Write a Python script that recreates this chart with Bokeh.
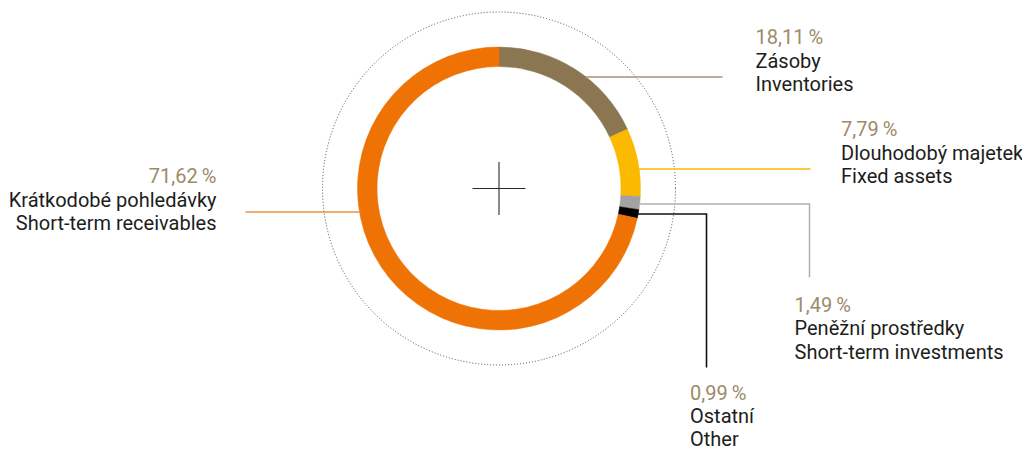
import numpy as np
from bokeh.plotting import figure
from bokeh.models import Range1d, ColumnDataSource
from bokeh.core.properties import value
from bokeh.embed import file_html
from bokeh.resources import INLINE

# ---------------- data ----------------
labels_cz = ["Zásoby", "Dlouhodobý majetek", "Peněžní prostředky", "Ostatní", "Krátkodobé pohledávky"]
labels_en = ["Inventories", "Fixed assets", "Short-term investments", "Other", "Short-term receivables"]
shares = [18.11, 7.79, 1.49, 0.99, 71.62]
pct_text = ["18,11\u2009%", "7,79\u2009%", "1,49\u2009%", "0,99\u2009%", "71,62\u2009%"]

# ---------------- styles ----------------
seg_colors = ["#8a7752", "#fbb900", "#a2a2a2", "#000000", "#ef7304"]
leader_colors = ["#a39576", "#fbb900", "#b0b0b0", "#111111", "#f29040"]
pct_color = "#9c8a69"
txt_color = "#1d1d1b"
FONT = "Roboto"
FSIZE = "20px"

# ---------------- layout (reference pixel space) ----------------
W, H = 1022, 452
def X(s):
    return s
def Y(s):
    return H - s

CX, CY = 498.5, 188.0
R_OUT, R_IN, R_DOT, CROSS = 141.5, 122.0, 176.5, 26.5

leader_y = [76.5, 168.5, 203.5, 213.5, 211.5]
leader_side = [1, 1, 1, 1, -1]
leader_x_end = [722, 810, 809, 706, 245]
leader_drop = [None, None, 277, 367, None]

label_x = [755, 840.5, 794, 689.5, 216]
label_align = ["left", "left", "left", "left", "right"]
label_base = [44, 136, 311.7, 400, 183]
LINE_STEP = [23.6, 23.6, 23.6, 22.8, 23.6]
BASE_FIX = -7.5

# ---------------- figure ----------------
p = figure(width=W, height=H, output_backend="svg", toolbar_location=None,
           x_range=Range1d(0, W), y_range=Range1d(0, H), min_border=0,
           background_fill_color="white", border_fill_color="white")
p.outline_line_color = None
p.axis.visible = False
p.grid.visible = False

# dotted outer circle
p.circle(x=[X(CX)], y=[Y(CY)], radius=R_DOT, fill_color=None,
         line_color="#3a3a3a", line_width=0.9, line_dash="1 2")

# donut
frac = np.array(shares) / 100.0
cum = np.concatenate([[0], np.cumsum(frac)])
start = np.pi / 2 - 2 * np.pi * cum[:-1]
end = np.pi / 2 - 2 * np.pi * cum[1:]
src = ColumnDataSource(dict(start=start, end=end, color=seg_colors))
p.annular_wedge(x=X(CX), y=Y(CY), inner_radius=R_IN, outer_radius=R_OUT,
                start_angle="start", end_angle="end", direction="clock",
                fill_color="color", line_color="color", line_width=0.5, source=src)

# crosshair
p.segment(x0=[X(CX - CROSS), X(CX)], y0=[Y(CY), Y(CY - CROSS)],
          x1=[X(CX + CROSS), X(CX)], y1=[Y(CY), Y(CY + CROSS)],
          line_color="#2a2a2a", line_width=1.1)

# leader lines
for i in range(len(shares)):
    ly = leader_y[i]
    dx = np.sqrt(max(R_OUT ** 2 - (ly - CY) ** 2, 0))
    x0 = CX + leader_side[i] * (dx - 1)
    xs = [X(x0), X(leader_x_end[i])]
    ys = [Y(ly), Y(ly)]
    if leader_drop[i] is not None:
        xs.append(X(leader_x_end[i]))
        ys.append(Y(leader_drop[i]))
    p.line(xs, ys, line_color=leader_colors[i], line_width=1.5 if i != 3 else 1.6,
           line_join="miter")

# labels
for i in range(len(shares)):
    lines = [pct_text[i], labels_cz[i], labels_en[i]]
    cols = [pct_color, txt_color, txt_color]
    for k in range(3):
        p.text(x=[X(label_x[i])], y=[Y(label_base[i] + k * LINE_STEP[i] + BASE_FIX)],
               text=[lines[k]],
               text_font=value(FONT), text_font_size=FSIZE, text_color=cols[k],
               text_align=label_align[i], text_baseline="alphabetic")

open("out.html", "w").write(file_html(p, INLINE))
